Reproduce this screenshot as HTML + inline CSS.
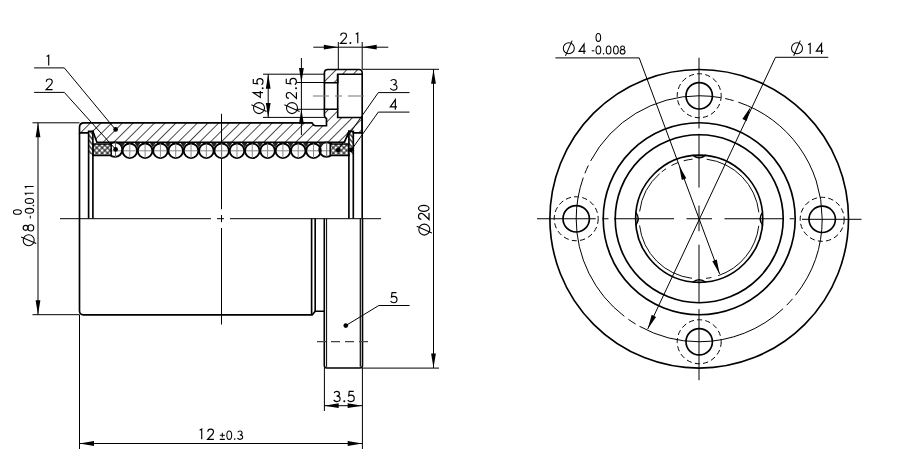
<!DOCTYPE html>
<html><head><meta charset="utf-8"><style>
html,body{margin:0;padding:0;background:#fff;}
svg{display:block;}
</style></head><body>
<svg width="900" height="466" viewBox="0 0 900 466" stroke="#000" fill="none">
<rect width="900" height="466" fill="#fff" stroke="none"/>
<defs>
<pattern id="h1" patternUnits="userSpaceOnUse" width="7.566" height="7.566" patternTransform="rotate(45)"><line x1="7.495" y1="-1" x2="7.495" y2="8.566" stroke="#000" stroke-width="1.25"/></pattern>
<pattern id="h2" patternUnits="userSpaceOnUse" width="3.4" height="3.4" patternTransform="rotate(-40)"><line x1="1.7" y1="-1" x2="1.7" y2="5" stroke="#000" stroke-width="1.1"/></pattern>
<pattern id="xh" patternUnits="userSpaceOnUse" width="3.8" height="3.8" patternTransform="rotate(45)"><path d="M0,1.9 H3.8 M1.9,0 V3.8" stroke="#000" stroke-width="1.0"/></pattern>
</defs>
<line x1="60" y1="218.7" x2="211" y2="218.7" stroke-width="1.0" />
<line x1="217" y1="218.7" x2="224" y2="218.7" stroke-width="1.0" />
<line x1="230" y1="218.7" x2="381" y2="218.7" stroke-width="1.0" />
<line x1="221.5" y1="113.8" x2="221.5" y2="209.3" stroke-width="1.0" />
<line x1="221.5" y1="215" x2="221.5" y2="222.2" stroke-width="1.0" />
<line x1="221.5" y1="228" x2="221.5" y2="324.5" stroke-width="1.0" />
<path d="M79.5,132.9 L79.5,127.3 Q79.5,122.8 84,122.8 L312,122.8 Q313.6,125.7 315.4,125.7 L326.5,125.7 L326.5,118.5 Q324.4,117.5 324.4,115.5 L324.4,109.2 L337.7,109.2 L337.7,117.5 L362.2,117.5 L362.2,132.9 L353.3,132.9 L348.9,131.3 L344.5,142.2 L96.9,142.2 L92.9,131.3 L88.6,132.9 L79.5,132.9 Z" stroke-width="1.65" fill="url(#h1)" />
<path d="M324.4,82.7 L324.4,73 Q324.4,69.5 328,69.5 L359,69.5 Q362.2,69.5 362.2,73 L362.2,74.2 L337.7,74.2 L337.7,82.7 Z" stroke-width="1.65" fill="url(#h1)" />
<line x1="324.4" y1="82.7" x2="324.4" y2="109.2" stroke-width="1.65" />
<line x1="337.7" y1="74.2" x2="337.7" y2="109.2" stroke-width="1.65" />
<line x1="362.2" y1="74.2" x2="362.2" y2="117.5" stroke-width="1.65" />
<line x1="313" y1="96" x2="364" y2="96" stroke-width="1.2" stroke="#777" stroke-dasharray="16,6,7,6"/>
<line x1="112" y1="150.8" x2="330" y2="150.8" stroke-width="1" stroke="#888"/>
<circle cx="115" cy="149.6" r="7.3" stroke-width="1.85" fill="none" />
<circle cx="326.5" cy="149.6" r="7.3" stroke-width="1.85" fill="none" />
<line x1="115.5" y1="142.3" x2="115.5" y2="157" stroke-width="1" stroke="#666"/>
<line x1="326.7" y1="142.3" x2="326.7" y2="157" stroke-width="1" stroke="#666"/>
<path d="M119.35,143 L124.95,143 L122.15,147.5 Z" fill="#222" stroke="none"/>
<path d="M134.66,143 L140.26,143 L137.46,147.5 Z" fill="#222" stroke="none"/>
<path d="M149.97,143 L155.57,143 L152.77,147.5 Z" fill="#222" stroke="none"/>
<path d="M165.28,143 L170.88,143 L168.08,147.5 Z" fill="#222" stroke="none"/>
<path d="M180.59,143 L186.19,143 L183.39,147.5 Z" fill="#222" stroke="none"/>
<path d="M195.90,143 L201.50,143 L198.70,147.5 Z" fill="#222" stroke="none"/>
<path d="M211.21,143 L216.81,143 L214.01,147.5 Z" fill="#222" stroke="none"/>
<path d="M226.52,143 L232.12,143 L229.32,147.5 Z" fill="#222" stroke="none"/>
<path d="M241.83,143 L247.43,143 L244.63,147.5 Z" fill="#222" stroke="none"/>
<path d="M257.14,143 L262.74,143 L259.94,147.5 Z" fill="#222" stroke="none"/>
<path d="M272.45,143 L278.05,143 L275.25,147.5 Z" fill="#222" stroke="none"/>
<path d="M287.76,143 L293.36,143 L290.56,147.5 Z" fill="#222" stroke="none"/>
<path d="M303.07,143 L308.67,143 L305.87,147.5 Z" fill="#222" stroke="none"/>
<path d="M318.38,143 L323.98,143 L321.18,147.5 Z" fill="#222" stroke="none"/>
<circle cx="129.8" cy="150.8" r="7.3" stroke-width="1.85" fill="none" />
<line x1="129.8" y1="143.5" x2="129.8" y2="158.1" stroke-width="1" stroke="#888"/>
<circle cx="145.11" cy="150.8" r="7.3" stroke-width="1.85" fill="none" />
<line x1="145.11" y1="143.5" x2="145.11" y2="158.1" stroke-width="1" stroke="#888"/>
<circle cx="160.42" cy="150.8" r="7.3" stroke-width="1.85" fill="none" />
<line x1="160.42" y1="143.5" x2="160.42" y2="158.1" stroke-width="1" stroke="#888"/>
<circle cx="175.73" cy="150.8" r="7.3" stroke-width="1.85" fill="none" />
<line x1="175.73" y1="143.5" x2="175.73" y2="158.1" stroke-width="1" stroke="#888"/>
<circle cx="191.04" cy="150.8" r="7.3" stroke-width="1.85" fill="none" />
<line x1="191.04" y1="143.5" x2="191.04" y2="158.1" stroke-width="1" stroke="#888"/>
<circle cx="206.35" cy="150.8" r="7.3" stroke-width="1.85" fill="none" />
<line x1="206.35" y1="143.5" x2="206.35" y2="158.1" stroke-width="1" stroke="#888"/>
<circle cx="221.66" cy="150.8" r="7.3" stroke-width="1.85" fill="none" />
<line x1="221.66" y1="143.5" x2="221.66" y2="158.1" stroke-width="1" stroke="#888"/>
<circle cx="236.97" cy="150.8" r="7.3" stroke-width="1.85" fill="none" />
<line x1="236.97" y1="143.5" x2="236.97" y2="158.1" stroke-width="1" stroke="#888"/>
<circle cx="252.28" cy="150.8" r="7.3" stroke-width="1.85" fill="none" />
<line x1="252.28" y1="143.5" x2="252.28" y2="158.1" stroke-width="1" stroke="#888"/>
<circle cx="267.59" cy="150.8" r="7.3" stroke-width="1.85" fill="none" />
<line x1="267.59" y1="143.5" x2="267.59" y2="158.1" stroke-width="1" stroke="#888"/>
<circle cx="282.9" cy="150.8" r="7.3" stroke-width="1.85" fill="none" />
<line x1="282.9" y1="143.5" x2="282.9" y2="158.1" stroke-width="1" stroke="#888"/>
<circle cx="298.21" cy="150.8" r="7.3" stroke-width="1.85" fill="none" />
<line x1="298.21" y1="143.5" x2="298.21" y2="158.1" stroke-width="1" stroke="#888"/>
<circle cx="313.52" cy="150.8" r="7.3" stroke-width="1.85" fill="none" />
<line x1="313.52" y1="143.5" x2="313.52" y2="158.1" stroke-width="1" stroke="#888"/>
<rect x="92.9" y="144" width="18.30" height="11.8" fill="#fff" stroke="none"/>
<path d="M92.9,144 L111.2,144 L111.2,155.5 L92.9,155.5 Z" stroke-width="1.5" fill="url(#xh)" />
<rect x="330.2" y="144" width="18.70" height="11.8" fill="#fff" stroke="none"/>
<path d="M330.2,144 L348.9,144 L348.9,155.5 L330.2,155.5 Z" stroke-width="1.5" fill="url(#xh)" />
<rect x="88.6" y="131.3" width="4.30" height="23.1" fill="#fff" stroke="none"/>
<rect x="88.6" y="131.3" width="4.30" height="23.1" fill="url(#h2)" stroke="none"/>
<path d="M88.6,218.5 L88.6,131.3 L92.9,131.3 L92.9,218.5" stroke-width="1.65" fill="none" />
<rect x="348.9" y="131.3" width="4.40" height="23.1" fill="#fff" stroke="none"/>
<rect x="348.9" y="131.3" width="4.40" height="23.1" fill="url(#h2)" stroke="none"/>
<path d="M348.9,218.5 L348.9,131.3 L353.3,131.3 L353.3,218.5" stroke-width="1.65" fill="none" />
<line x1="362.2" y1="117.5" x2="362.2" y2="218.5" stroke-width="1.65" />
<line x1="79.5" y1="132.9" x2="79.5" y2="218.5" stroke-width="1.65" />
<circle cx="115.6" cy="129.4" r="2.35" fill="#000" stroke="none"/>
<circle cx="115.6" cy="149.4" r="2.35" fill="#000" stroke="none"/>
<circle cx="338.2" cy="150" r="2.35" fill="#000" stroke="none"/>
<circle cx="350.9" cy="149.8" r="2.35" fill="#000" stroke="none"/>
<circle cx="345.8" cy="325.6" r="2.35" fill="#000" stroke="none"/>
<path d="M79.5,218.5 L79.5,310.8 Q79.5,314.8 83.5,314.8 L312.2,314.8 L315.2,311.2 L324.2,311.2" stroke-width="1.65" fill="none" />
<line x1="311.6" y1="218.5" x2="311.6" y2="314.8" stroke-width="1.65" />
<line x1="315.2" y1="218.5" x2="315.2" y2="311.2" stroke-width="1.65" />
<path d="M324.3,218.5 L324.3,365.5 Q324.3,368 326.8,368 L360,368 Q362.5,368 362.5,365.5 L362.5,218.5" stroke-width="1.6" fill="none" />
<line x1="326.6" y1="218.5" x2="326.6" y2="366.8" stroke-width="1.0" />
<line x1="360.3" y1="218.5" x2="360.3" y2="366.8" stroke-width="1.2" />
<line x1="317" y1="341.6" x2="369" y2="341.6" stroke-width="1.2" stroke="#444" stroke-dasharray="9,5"/>
<line x1="32.5" y1="122.8" x2="79.5" y2="122.8" stroke-width="1.0" />
<line x1="32.5" y1="314.7" x2="79.5" y2="314.7" stroke-width="1.0" />
<line x1="38" y1="122.8" x2="38" y2="314.7" stroke-width="1.0" />
<path d="M38.00,122.80 L40.40,137.30 L35.60,137.30 Z" fill="#000" stroke="none"/>
<path d="M38.00,314.70 L35.60,300.20 L40.40,300.20 Z" fill="#000" stroke="none"/>
<line x1="79.5" y1="314.7" x2="79.5" y2="449" stroke-width="1.0" />
<line x1="362.4" y1="368" x2="362.4" y2="449" stroke-width="1.0" />
<line x1="79.5" y1="443.5" x2="362.2" y2="443.5" stroke-width="1.0" />
<path d="M79.50,443.50 L94.00,441.10 L94.00,445.90 Z" fill="#000" stroke="none"/>
<path d="M362.20,443.50 L347.70,445.90 L347.70,441.10 Z" fill="#000" stroke="none"/>
<line x1="324.4" y1="368" x2="324.4" y2="411" stroke-width="1.0" />
<line x1="324.2" y1="405.7" x2="362.2" y2="405.7" stroke-width="1.0" />
<path d="M324.20,405.70 L338.70,403.30 L338.70,408.10 Z" fill="#000" stroke="none"/>
<path d="M362.20,405.70 L347.70,408.10 L347.70,403.30 Z" fill="#000" stroke="none"/>
<line x1="362.2" y1="69.3" x2="439" y2="69.3" stroke-width="1.0" />
<line x1="362.5" y1="368.1" x2="439" y2="368.1" stroke-width="1.0" />
<line x1="433.5" y1="69.3" x2="433.5" y2="368" stroke-width="1.0" />
<path d="M433.50,69.30 L435.90,83.80 L431.10,83.80 Z" fill="#000" stroke="none"/>
<path d="M433.50,368.00 L431.10,353.50 L435.90,353.50 Z" fill="#000" stroke="none"/>
<line x1="338.3" y1="42" x2="338.3" y2="69.5" stroke-width="1.0" />
<line x1="362.2" y1="42" x2="362.2" y2="69.5" stroke-width="1.0" />
<line x1="313.3" y1="47.2" x2="388.3" y2="47.2" stroke-width="1.0" />
<path d="M338.30,47.20 L323.80,49.60 L323.80,44.80 Z" fill="#000" stroke="none"/>
<path d="M362.20,47.20 L376.70,44.80 L376.70,49.60 Z" fill="#000" stroke="none"/>
<line x1="263" y1="74.2" x2="324.4" y2="74.2" stroke-width="1.0" />
<line x1="263" y1="117.4" x2="324.4" y2="117.4" stroke-width="1.0" />
<line x1="268.2" y1="74.2" x2="268.2" y2="117.4" stroke-width="1.0" />
<path d="M268.20,74.20 L270.60,88.70 L265.80,88.70 Z" fill="#000" stroke="none"/>
<path d="M268.20,117.40 L265.80,102.90 L270.60,102.90 Z" fill="#000" stroke="none"/>
<line x1="296.5" y1="82.5" x2="324.4" y2="82.5" stroke-width="1.0" />
<line x1="296.5" y1="109.3" x2="324.4" y2="109.3" stroke-width="1.0" />
<line x1="301.4" y1="58" x2="301.4" y2="135" stroke-width="1.0" />
<path d="M301.40,82.50 L299.00,68.00 L303.80,68.00 Z" fill="#000" stroke="none"/>
<path d="M301.40,109.30 L303.80,123.80 L299.00,123.80 Z" fill="#000" stroke="none"/>
<path d="M34.1,67.9 L64.3,67.9 L115.4,129.5" stroke-width="1.0" fill="none" />
<path d="M34.1,92.4 L64.3,92.4 L115.2,148.8" stroke-width="1.0" fill="none" />
<path d="M409.5,92.6 L378.3,92.6 L338.3,149.6" stroke-width="1.0" fill="none" />
<path d="M409.5,112.1 L378.3,112.1 L351,150.4" stroke-width="1.0" fill="none" />
<path d="M409.6,305.5 L378.8,305.5 L345.8,325.6" stroke-width="1.0" fill="none" />
<circle cx="699.2" cy="218.75" r="149.3" stroke-width="1.65" fill="none" />
<circle cx="699.2" cy="218.75" r="96" stroke-width="1.65" fill="none" />
<circle cx="699.2" cy="218.75" r="84" stroke-width="1.65" fill="none" />
<circle cx="699.2" cy="218.75" r="63.6" stroke-width="1.65" fill="none" />
<circle cx="699.2" cy="218.75" r="60" stroke-width="0.95" fill="none" stroke-dasharray="0.00,7.12,67.65,7.02,5.34,14.24,80.01,14.24,43.67,2.62,5.34,6.18,7.12,6.07,9.01,14.24,80.01,7.12,1.00,0.00"/>
<path d="M762.80,225.35 Q757.60,218.75 762.80,212.15" stroke-width="1.5" fill="none" />
<path d="M705.80,155.15 Q699.20,160.35 692.60,155.15" stroke-width="1.5" fill="none" />
<path d="M635.60,212.15 Q640.80,218.75 635.60,225.35" stroke-width="1.5" fill="none" />
<path d="M692.60,282.35 Q699.20,277.15 705.80,282.35" stroke-width="1.5" fill="none" />
<circle cx="699.2" cy="218.75" r="123" stroke-width="1" fill="none" stroke-dasharray="154.6,4.6,8.6,5" stroke-dashoffset="72"/>
<circle cx="822.2" cy="219.3" r="13.2" stroke-width="1.65" fill="none" />
<circle cx="822.2" cy="219.3" r="22" stroke-width="1" fill="none" stroke-dasharray="5.2,3.2"/>
<circle cx="699.2" cy="95.75" r="13.2" stroke-width="1.65" fill="none" />
<circle cx="699.2" cy="95.75" r="22" stroke-width="1" fill="none" stroke-dasharray="5.2,3.2"/>
<circle cx="576.2" cy="218.75" r="13.2" stroke-width="1.65" fill="none" />
<circle cx="576.2" cy="218.75" r="22" stroke-width="1" fill="none" stroke-dasharray="5.2,3.2"/>
<circle cx="699.2" cy="341.75" r="13.2" stroke-width="1.65" fill="none" />
<circle cx="699.2" cy="341.75" r="22" stroke-width="1" fill="none" stroke-dasharray="5.2,3.2"/>
<line x1="537" y1="218.75" x2="595.7" y2="218.75" stroke-width="1.0" />
<line x1="602.4" y1="218.75" x2="608.5" y2="218.75" stroke-width="1.0" />
<line x1="614" y1="218.75" x2="674" y2="218.75" stroke-width="1.0" />
<line x1="686.5" y1="218.75" x2="712" y2="218.75" stroke-width="1.0" />
<line x1="724.5" y1="218.75" x2="784" y2="218.75" stroke-width="1.0" />
<line x1="789.7" y1="218.75" x2="794.4" y2="218.75" stroke-width="1.0" />
<line x1="802" y1="219.3" x2="861.5" y2="219.3" stroke-width="1.0" />
<line x1="699" y1="57.7" x2="699" y2="128.4" stroke-width="1.0" />
<line x1="699" y1="133.8" x2="699" y2="187.6" stroke-width="1.0" />
<line x1="699" y1="205.6" x2="699" y2="231.2" stroke-width="1.0" />
<line x1="699" y1="244.7" x2="699" y2="302.2" stroke-width="1.0" />
<line x1="699" y1="309.1" x2="699" y2="380.2" stroke-width="1.0" />
<path d="M555.4,57.9 L639.2,57.9 L719.6,273.9" stroke-width="1.0" fill="none" />
<path d="M679.00,165.50 L686.30,178.25 L681.81,179.93 Z" fill="#000" stroke="none"/>
<path d="M719.60,273.90 L712.30,261.15 L716.79,259.47 Z" fill="#000" stroke="none"/>
<path d="M828.3,57.3 L775.5,57.3 L647.7,329" stroke-width="1.0" fill="none" />
<path d="M750.70,106.80 L746.70,120.94 L742.36,118.90 Z" fill="#000" stroke="none"/>
<path d="M647.70,329.00 L651.70,314.86 L656.04,316.90 Z" fill="#000" stroke="none"/>
<g stroke="#000">
<path d="M 46.68,56.59 L 48.71,55.38 L 48.71,65.53" fill="none" stroke-width="1.15" stroke-linecap="butt" stroke-linejoin="miter"/>
<path d="M 46.29,81.85 C 46.29,80.15 47.67,78.98 49.27,78.98 C 50.97,78.98 52.25,80.25 52.25,81.85 C 52.25,82.92 51.72,83.77 50.87,84.62 L 46.08,89.63 L 52.57,89.63" fill="none" stroke-width="1.15" stroke-linecap="butt" stroke-linejoin="miter"/>
<path d="M 390.70,81.07 C 391.34,80.01 392.40,79.48 393.58,79.48 C 395.17,79.48 396.24,80.65 396.24,82.03 C 396.24,83.52 395.07,84.48 393.26,84.48 C 395.39,84.48 396.98,85.65 396.98,87.25 C 396.98,88.95 395.49,90.13 393.58,90.13 C 392.19,90.13 390.91,89.49 390.27,88.31" fill="none" stroke-width="1.15" stroke-linecap="butt" stroke-linejoin="miter"/>
<path d="M 395.35,109.73 L 395.35,99.58 L 390.27,106.88 L 396.97,106.88" fill="none" stroke-width="1.15" stroke-linecap="butt" stroke-linejoin="miter"/>
<path d="M 396.46,292.57 L 392.00,292.57 L 391.49,297.04 C 392.20,296.53 393.01,296.33 393.82,296.33 C 395.65,296.33 396.97,297.65 396.97,299.48 C 396.97,301.41 395.55,302.72 393.72,302.72 C 392.40,302.72 391.29,302.22 390.57,301.20" fill="none" stroke-width="1.15" stroke-linecap="butt" stroke-linejoin="miter"/>
<path d="M 340.73,35.77 C 340.73,34.11 342.08,32.98 343.63,32.98 C 345.29,32.98 346.53,34.22 346.53,35.77 C 346.53,36.80 346.01,37.63 345.18,38.46 L 340.52,43.33 L 346.84,43.33" fill="none" stroke-width="1.15" stroke-linecap="butt" stroke-linejoin="miter"/>
<circle cx="350.40" cy="42.92" r="0.98" fill="#000" stroke="none"/>
<path d="M 355.68,34.22 L 357.75,32.98 L 357.75,43.33" fill="none" stroke-width="1.15" stroke-linecap="butt" stroke-linejoin="miter"/>
<path d="M 334.09,392.91 C 334.70,391.89 335.73,391.38 336.85,391.38 C 338.39,391.38 339.42,392.50 339.42,393.83 C 339.42,395.27 338.29,396.19 336.55,396.19 C 338.60,396.19 340.13,397.32 340.13,398.86 C 340.13,400.50 338.70,401.62 336.85,401.62 C 335.52,401.62 334.29,401.01 333.68,399.88" fill="none" stroke-width="1.15" stroke-linecap="butt" stroke-linejoin="miter"/>
<circle cx="344.30" cy="401.23" r="0.97" fill="#000" stroke="none"/>
<path d="M 353.72,391.38 L 349.21,391.38 L 348.70,395.88 C 349.41,395.37 350.23,395.17 351.05,395.17 C 352.90,395.17 354.23,396.50 354.23,398.35 C 354.23,400.29 352.80,401.62 350.95,401.62 C 349.62,401.62 348.49,401.11 347.77,400.09" fill="none" stroke-width="1.15" stroke-linecap="butt" stroke-linejoin="miter"/>
<path d="M 199.67,430.31 L 201.72,429.07 L 201.72,439.32" fill="none" stroke-width="1.15" stroke-linecap="butt" stroke-linejoin="miter"/>
<path d="M 207.78,431.84 C 207.78,430.20 209.11,429.07 210.65,429.07 C 212.29,429.07 213.52,430.31 213.52,431.84 C 213.52,432.87 213.01,433.69 212.19,434.51 L 207.57,439.32 L 213.83,439.32" fill="none" stroke-width="1.15" stroke-linecap="butt" stroke-linejoin="miter"/>
<path d="M 222.33,432.86 L 222.33,437.54 M 219.83,435.20 L 224.84,435.20 M 219.83,439.38 L 224.84,439.38" fill="none" stroke-width="1.05" stroke-linecap="butt" stroke-linejoin="miter"/>
<ellipse cx="229.25" cy="435.20" rx="2.42" ry="4.17" fill="none" stroke-width="1.05"/>
<circle cx="234.70" cy="439.10" r="0.80" fill="#000" stroke="none"/>
<path d="M 237.76,432.28 C 238.26,431.44 239.09,431.02 240.01,431.02 C 241.27,431.02 242.10,431.94 242.10,433.03 C 242.10,434.20 241.18,434.95 239.76,434.95 C 241.43,434.95 242.69,435.87 242.69,437.12 C 242.69,438.46 241.52,439.38 240.01,439.38 C 238.93,439.38 237.93,438.87 237.43,437.96" fill="none" stroke-width="1.05" stroke-linecap="butt" stroke-linejoin="miter"/>
<path d="M 584.05,54.12 L 584.05,44.18 L 579.08,51.34 L 585.64,51.34" fill="none" stroke-width="1.15" stroke-linecap="butt" stroke-linejoin="miter"/>
<path d="M 591.73,50.81 L 594.33,50.81" fill="none" stroke-width="1.05" stroke-linecap="butt" stroke-linejoin="miter"/>
<ellipse cx="598.39" cy="50.00" rx="2.36" ry="4.07" fill="none" stroke-width="1.05"/>
<circle cx="603.60" cy="53.82" r="0.78" fill="#000" stroke="none"/>
<ellipse cx="608.59" cy="50.00" rx="2.36" ry="4.07" fill="none" stroke-width="1.05"/>
<ellipse cx="615.89" cy="50.00" rx="2.36" ry="4.07" fill="none" stroke-width="1.05"/>
<ellipse cx="622.57" cy="47.84" rx="1.92" ry="1.92" fill="none" stroke-width="1.05"/><ellipse cx="622.57" cy="51.79" rx="2.44" ry="2.28" fill="none" stroke-width="1.05"/>
<ellipse cx="598.33" cy="37.40" rx="2.31" ry="3.98" fill="none" stroke-width="1.05"/>
<path d="M 808.08,44.84 L 810.19,43.58 L 810.19,54.12" fill="none" stroke-width="1.15" stroke-linecap="butt" stroke-linejoin="miter"/>
<path d="M 821.55,54.12 L 821.55,43.58 L 816.28,51.17 L 823.24,51.17" fill="none" stroke-width="1.15" stroke-linecap="butt" stroke-linejoin="miter"/>
<path d="M 263.02,92.65 L 253.28,92.65 L 260.30,97.52 L 260.30,91.09" fill="none" stroke-width="1.15" stroke-linecap="butt" stroke-linejoin="miter"/>
<circle cx="262.67" cy="88.20" r="0.93" fill="#000" stroke="none"/>
<path d="M 253.28,79.07 L 253.28,83.36 L 257.56,83.85 C 257.08,83.16 256.88,82.38 256.88,81.60 C 256.88,79.85 258.15,78.58 259.91,78.58 C 261.76,78.58 263.02,79.95 263.02,81.70 C 263.02,82.97 262.54,84.04 261.56,84.72" fill="none" stroke-width="1.15" stroke-linecap="butt" stroke-linejoin="miter"/>
<path d="M 289.02,98.22 C 287.39,98.22 286.27,96.90 286.27,95.38 C 286.27,93.76 287.49,92.54 289.02,92.54 C 290.03,92.54 290.84,93.05 291.65,93.86 L 296.42,98.42 L 296.42,92.23" fill="none" stroke-width="1.15" stroke-linecap="butt" stroke-linejoin="miter"/>
<circle cx="296.04" cy="88.20" r="0.96" fill="#000" stroke="none"/>
<path d="M 286.27,78.84 L 286.27,83.30 L 290.74,83.81 C 290.23,83.10 290.03,82.29 290.03,81.48 C 290.03,79.65 291.35,78.33 293.18,78.33 C 295.11,78.33 296.42,79.75 296.42,81.58 C 296.42,82.90 295.92,84.01 294.90,84.72" fill="none" stroke-width="1.15" stroke-linecap="butt" stroke-linejoin="miter"/>
<path d="M 421.32,219.31 C 419.64,219.31 418.48,217.94 418.48,216.36 C 418.48,214.67 419.74,213.41 421.32,213.41 C 422.38,213.41 423.22,213.93 424.07,214.78 L 429.03,219.53 L 429.03,213.09" fill="none" stroke-width="1.15" stroke-linecap="butt" stroke-linejoin="miter"/>
<ellipse cx="423.75" cy="208.37" rx="5.27" ry="3.06" fill="none" stroke-width="1.15"/>
<ellipse cx="25.65" cy="227.86" rx="2.48" ry="2.48" fill="none" stroke-width="1.15"/><ellipse cx="30.77" cy="227.86" rx="2.95" ry="3.16" fill="none" stroke-width="1.15"/>
<path d="M 30.30,218.38 L 30.30,215.67" fill="none" stroke-width="1.05" stroke-linecap="butt" stroke-linejoin="miter"/>
<ellipse cx="29.45" cy="210.82" rx="4.22" ry="2.45" fill="none" stroke-width="1.05"/>
<circle cx="33.39" cy="205.60" r="0.81" fill="#000" stroke="none"/>
<ellipse cx="29.45" cy="200.92" rx="4.22" ry="2.45" fill="none" stroke-width="1.05"/>
<path d="M 26.24,194.97 L 25.23,193.28 L 33.67,193.28" fill="none" stroke-width="1.05" stroke-linecap="butt" stroke-linejoin="miter"/>
<path d="M 26.24,188.17 L 25.23,186.48 L 33.67,186.48" fill="none" stroke-width="1.05" stroke-linecap="butt" stroke-linejoin="miter"/>
<ellipse cx="17.40" cy="211.97" rx="3.98" ry="2.31" fill="none" stroke-width="1.05"/>
</g>
<circle cx="568.8" cy="48.25" r="5.5" fill="none" stroke-width="1.05"/><line x1="572.1" y1="40.65" x2="565.5" y2="55.85" stroke-width="1.05"/>
<circle cx="797" cy="48.2" r="5.5" fill="none" stroke-width="1.05"/><line x1="800.3" y1="40.6" x2="793.7" y2="55.8" stroke-width="1.05"/>
<circle cx="259" cy="108.1" r="5.5" fill="none" stroke-width="1.05"/><line x1="251.4" y1="104.8" x2="266.6" y2="111.4" stroke-width="1.05"/>
<circle cx="292" cy="108.1" r="5.5" fill="none" stroke-width="1.05"/><line x1="284.4" y1="104.8" x2="299.6" y2="111.4" stroke-width="1.05"/>
<circle cx="424.3" cy="229.6" r="5.5" fill="none" stroke-width="1.05"/><line x1="416.7" y1="226.3" x2="431.9" y2="232.9" stroke-width="1.05"/>
<circle cx="28.7" cy="240.2" r="5.5" fill="none" stroke-width="1.05"/><line x1="21.1" y1="236.9" x2="36.3" y2="243.5" stroke-width="1.05"/>
</svg></body></html>
